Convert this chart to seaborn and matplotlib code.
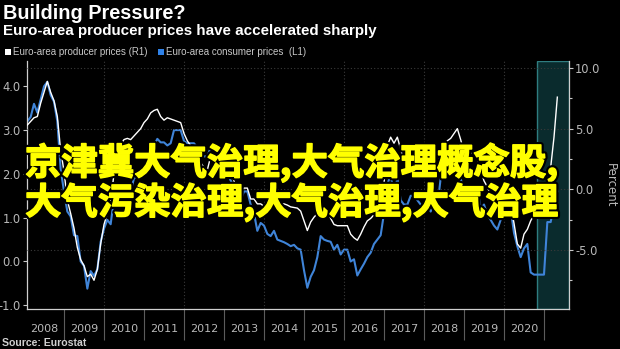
import numpy as np
import pandas as pd
import matplotlib
matplotlib.use("Agg")
import matplotlib.pyplot as plt
import matplotlib.patheffects as pe
from matplotlib.patches import Rectangle
import seaborn as sns

# Euro-area consumer prices, % y/y (left axis), monthly Jan 2008 - Apr 2021
cpi = [
    3.2, 3.3, 3.6, 3.4, 3.7, 4.0, 4.1, 3.8, 3.65, 3.2, 2.1, 1.6,
    1.14, 1.03, 0.6, 0.58, 0.0, -0.1, -0.62, -0.22, -0.33, -0.18, 0.45, 0.75,
    0.95, 0.85, 1.45, 1.55, 1.65, 1.45, 1.65, 1.6, 1.9, 1.95, 2.0, 2.15,
    2.35, 2.5, 2.65, 2.8, 2.72, 2.72, 2.65, 2.7, 3.0, 3.0, 3.0, 2.75,
    2.7, 2.7, 2.7, 2.6, 2.45, 2.4, 2.4, 2.6, 2.6, 2.5, 2.2, 2.2,
    2.0, 1.85, 1.7, 1.2, 1.4, 1.6, 1.6, 1.3, 1.1, 0.7, 0.88, 0.82,
    0.63, 0.58, 0.7, 0.5, 0.47, 0.44, 0.4, 0.35, 0.38, 0.3, 0.27, -0.2,
    -0.6, -0.35, -0.2, 0.1, 0.58, 0.5, 0.47, 0.45, 0.27, 0.38, 0.16, 0.27,
    0.27, 0.0, 0.05, -0.32, -0.18, -0.05, 0.1, 0.2, 0.4, 0.5, 0.6, 1.1,
    1.75, 2.0, 1.5, 1.9, 1.4, 1.3, 1.3, 1.5, 1.5, 1.4, 1.3, 1.22,
    1.37, 1.14, 1.35, 1.25, 1.9, 2.0, 2.1, 2.0, 2.1, 2.2, 1.9, 1.55,
    1.4, 1.5, 1.4, 1.7, 1.2, 1.3, 1.07, 0.95, 0.82, 0.73, 0.95, 1.1,
    1.4, 1.2, 0.65, 0.35, 0.1, 0.3, 0.4, -0.25, -0.3, -0.3, -0.3, -0.3,
    0.9, 0.9, 1.3, 1.6,
]

# Euro-area producer prices, % y/y (right axis), same months
ppi = [
    5.3, 5.6, 5.9, 6.0, 7.1, 8.0, 8.9, 8.0, 7.3, 6.0, 3.2, 1.5,
    -0.9, -2.0, -3.2, -4.8, -5.8, -6.3, -7.2, -7.0, -7.5, -6.6, -4.5, -2.9,
    -2.0, -1.0, 1.3, 3.3, 3.7, 4.1, 4.2, 4.1, 4.4, 4.7, 5.0, 5.5,
    5.8, 6.3, 6.5, 6.6, 6.0, 5.7, 5.9, 5.8, 5.7, 5.6, 5.5, 4.6,
    4.0, 3.6, 3.4, 2.5, 2.2, 1.8, 1.6, 2.7, 2.7, 2.6, 2.1, 2.2,
    1.7, 1.5, 0.7, -0.3, -0.1, 0.1, 0.1, -0.8, -0.8, -1.2, -1.2, -1.4,
    -1.5, -1.45, -1.35, -1.3, -1.25, -1.2, -1.3, -1.45, -1.5, -1.55, -1.8, -2.6,
    -3.4, -2.7, -2.3, -2.0, -1.9, -1.8, -1.75, -2.4, -2.9, -3.0, -3.0, -3.0,
    -3.0, -3.7, -4.0, -4.2, -3.7, -3.1, -2.6, -2.4, -2.1, -2.0, -1.8, 0.5,
    3.6, 4.3, 3.8, 4.3, 3.3, 2.4, 2.0, 2.5, 2.8, 2.5, 2.8, 2.2,
    1.6, 1.7, 2.0, 1.9, 3.0, 3.6, 4.0, 4.2, 4.6, 5.0, 4.1, 3.0,
    3.0, 3.0, 2.9, 2.6, 1.6, 0.7, 0.2, -0.5, -1.2, -1.7, -1.4, -0.6,
    -0.6, -1.3, -2.8, -4.5, -4.85, -3.7, -3.3, -2.6, -2.1, -1.6, -1.3, -1.15,
    0.2, 1.8, 4.3, 7.6,
]

years = list(range(2008, 2021))
left_ticks = [-1.0, 0.0, 1.0, 2.0, 3.0, 4.0]
right_ticks = [-5.0, 0.0, 5.0, 10.0]
title = "Building Pressure?"
subtitle = "Euro-area producer prices have accelerated sharply"
legend_labels = ["Euro-area producer prices (R1)", "Euro-area consumer prices  (L1)"]
overlay_lines = ["京津冀大气治理,大气治理概念股,", "大气污染治理,大气治理,大气治理"]
source = "Source: Eurostat"

# month-end positions in decimal years
t = 2008 + (np.arange(len(cpi)) + 1) / 12.0
df = pd.DataFrame({"t": t, "cpi": cpi, "ppi": ppi})

BLUE = "#3f84d8"
TICK = "#b8b8b8"
GRID = "#3a3a3a"

W, H = 620, 349
fig = plt.figure(figsize=(W / 100, H / 100), dpi=100, facecolor="black")


def fx(px):
    return px / W


def fy(py):
    return 1 - py / H


ax = fig.add_axes([fx(27), fy(309), fx(569) - fx(27), fy(61) - fy(309)])
ax.set_facecolor("black")

# highlighted recent window
ax.axvspan(2020.83, 2021.62, facecolor="#0a2b2d", edgecolor="#2f7d80", lw=1.0, zorder=0)

for yr in range(2010, 2022, 2):
    ax.axvline(yr, color=GRID, lw=0.8, ls=(0, (1, 2)), zorder=0.5)

sns.lineplot(data=df, x="t", y="cpi", ax=ax, color=BLUE, lw=1.5, zorder=2)
ax.set_xlim(2008.075, 2021.625)
ax.set_ylim(-1.085, 4.578)

ax2 = ax.twinx()
sns.lineplot(data=df, x="t", y="ppi", ax=ax2, color="white", lw=1.0, zorder=3)
ax2.set_ylim(-9.87, 10.58)
ax2.set_xlim(2008.075, 2021.625)
ax2.yaxis.grid(True, color=GRID, lw=0.8, ls=(0, (1, 2)))
ax2.set_axisbelow(True)

ax.set_xlabel("")
ax.set_ylabel("")
ax2.set_xlabel("")

# x axis: year dividers as long ticks, year names centred between them
ax.set_xticks(range(2009, 2022))
ax.set_xticklabels([])
ax.set_xticks([y + 0.5 for y in years], minor=True)
ax.set_xticklabels([str(y) for y in years], minor=True)
ax.tick_params(axis="x", which="major", length=22, width=0.8, color="#5c5c5c", direction="out")
ax.tick_params(axis="x", which="minor", length=0, pad=10.5, labelsize=8, labelcolor=TICK)

# left axis
ax.set_yticks(left_ticks)
ax.set_yticklabels([f"{v:.1f}" for v in left_ticks])
ax.tick_params(axis="y", which="major", length=3, width=0.8, color="#c8c8c8", pad=1.5,
               labelsize=8.3, labelcolor=TICK)

# right axis
ax2.set_yticks(right_ticks)
ax2.set_yticklabels([f"{v:.1f}" for v in right_ticks])
ax2.set_yticks([-7.5, -2.5, 2.5, 7.5], minor=True)
ax2.tick_params(axis="y", which="major", length=3, width=0.8, color="#c8c8c8", pad=1.5,
                labelsize=8.3, labelcolor=TICK)
ax2.tick_params(axis="y", which="minor", length=2.5, width=0.8, color="#c8c8c8")
ax2.set_ylabel("Percent", rotation=270, color=TICK, fontsize=8.5, labelpad=12)

for a in (ax, ax2):
    a.spines["top"].set_visible(False)
    for s in ("left", "right", "bottom"):
        a.spines[s].set_color("#cfcfcf")
        a.spines[s].set_linewidth(0.9)
ax2.spines["left"].set_visible(False)
ax2.spines["bottom"].set_visible(False)
ax.spines["right"].set_visible(False)

# header
fig.text(fx(3), fy(19), title, color="white", fontsize=14.3, fontweight="bold",
         family="Liberation Sans", va="baseline", ha="left")
fig.text(fx(3), fy(35.5), subtitle, color="white", fontsize=10.9, fontweight="bold",
         family="Liberation Sans", va="baseline", ha="left")

# legend
fig.patches.append(Rectangle((fx(5), fy(55)), 6 / W, 6 / H, transform=fig.transFigure,
                             facecolor="white", edgecolor="none"))
fig.text(fx(13), fy(55), legend_labels[0], color="#c8c8c8", fontsize=7.0,
         family="Liberation Sans", va="baseline", ha="left")
fig.patches.append(Rectangle((fx(158), fy(55)), 6 / W, 6 / H, transform=fig.transFigure,
                             facecolor="#2f82e8", edgecolor="none"))
fig.text(fx(166), fy(55), legend_labels[1], color="#c8c8c8", fontsize=7.0,
         family="Liberation Sans", va="baseline", ha="left")

# source line
fig.text(fx(2), fy(346), source, color="#d0d0d0", fontsize=7.6, fontweight="bold",
         family="Liberation Sans", va="baseline", ha="left")

# overlay caption: heavy yellow glyphs with a black rim
stroke = [pe.withStroke(linewidth=4.2, foreground="black"),
          pe.withStroke(linewidth=1.1, foreground="#ffff00")]
for line, base in zip(overlay_lines, (174.5, 214.0)):
    fig.text(fx(25), fy(base), line, color="#ffff00", fontsize=26.2, fontweight="bold",
             family=["Noto Sans CJK SC", "DejaVu Sans"], va="baseline", ha="left",
             path_effects=stroke, zorder=10)

fig.savefig("out.png", dpi=100, facecolor="black")
